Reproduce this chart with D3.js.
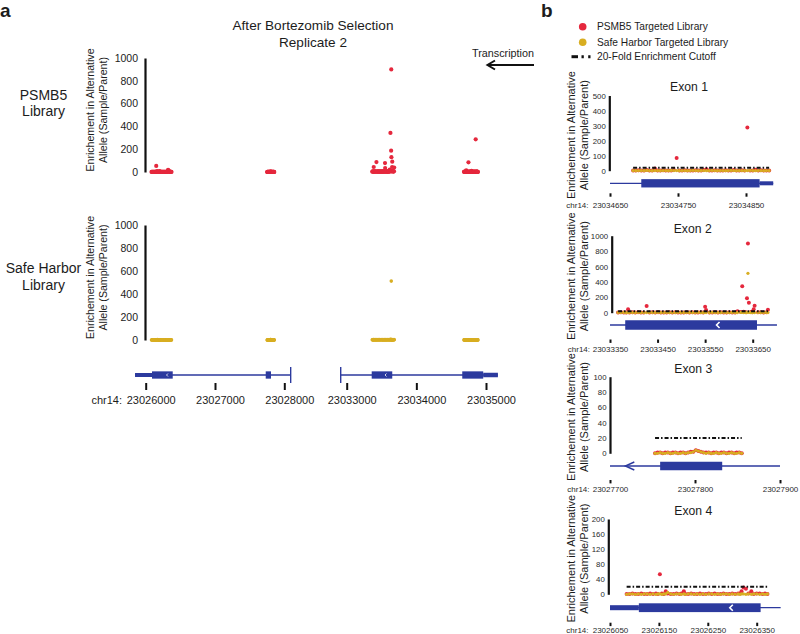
<!DOCTYPE html>
<html><head><meta charset="utf-8">
<script src="https://cdn.jsdelivr.net/npm/d3@7"></script>
<style>
body{margin:0;background:#fff}
svg{display:block;font-family:"Liberation Sans",Arial,sans-serif}
</style></head><body>
<svg id="c" width="800" height="634"></svg>
<script>
// ---------------- DATA ----------------
const titleLines = ["After Bortezomib Selection", "Replicate 2"];
const libraryLabels = [["PSMB5", "Library"], ["Safe Harbor", "Library"]];
const yTitleLines = ["Enrichement in Alternative", "Allele (Sample/Parent)"];
const legendLabels = ["PSMB5 Targeted Library", "Safe Harbor Targeted Library", "20-Fold Enrichment Cutoff"];
const exonNames = ["Exon 1", "Exon 2", "Exon 3", "Exon 4"];
const chrLabel = "chr14:";
const cutoff = 20;

const overviewYTicks = [0, 200, 400, 600, 800, 1000];
const overviewLeftTicks = [23026000, 23027000, 23028000];
const overviewRightTicks = [23033000, 23034000, 23035000];

const exonYMax = [500, 1000, 100, 200];
const exonYTicks = [[0,100,200,300,400,500],[0,200,400,600,800,1000],[0,20,40,60,80,100],[0,40,80,120,160,200]];
const exonXTicks = [
  [23034650, 23034750, 23034850],
  [23033350, 23033450, 23033550, 23033650],
  [23027700, 23027800, 23027900],
  [23026050, 23026150, 23026250, 23026350]
];

// Exon 1
const pos1 = [23034684,23034688,23034692,23034696,23034700,23034704,23034708,23034712,23034716,23034720,
  23034724,23034728,23034732,23034736,23034740,23034744,23034748,23034752,23034756,23034760,
  23034764,23034768,23034772,23034776,23034780,23034784,23034788,23034792,23034796,23034800,
  23034804,23034808,23034812,23034816,23034820,23034824,23034828,23034832,23034836,23034840,
  23034844,23034848,23034852,23034856,23034860,23034864,23034868,23034872,23034876,23034880,
  23034884];
const psmb5_1 = [2,1,3,2,1,4,2,1,15,2, 1,3,2,1,2,4,85,2,1,3, 2,1,2,3,1,2,4,10,2,1, 3,2,1,2,3,1,2,4,2,1, 3,2,287,2,1,6,2,3,1,2, 1];
const safe_1 = [1,0,1,1,0,2,1,0,1,1, 0,1,1,0,2,1,1,0,1,1, 0,1,2,1,0,1,1,0,1,2, 1,0,1,1,0,1,2,1,0,1, 1,0,1,2,1,0,1,1,0,1, 1];
// Exon 2
const pos2 = [23033367,23033373,23033379,23033384,23033388,23033391,23033397,23033403,23033409,23033415,
  23033421,23033427,23033433,23033439,23033445,23033451,23033457,23033463,23033469,23033475,
  23033481,23033487,23033493,23033499,23033505,23033511,23033517,23033523,23033529,23033535,
  23033541,23033546,23033550,23033552,23033559,23033565,23033571,23033577,23033583,23033589,
  23033595,23033601,23033607,23033613,23033618,23033625,23033628,23033631,23033636,23033638,
  23033640,23033642,23033646,23033649,23033652,23033654,23033661,23033667,23033673,23033679,
  23033682];
const psmb5_2 = [3,5,2,4,44,4,6,3,5,2, 4,87,3,6,2,5,3,4,2,6, 3,5,2,4,3,6,2,5,4,3, 5,2,78,35,4,3,5,2,6,4, 3,5,2,4,20,8,343,12,6,187, 900,130,9,5,44,91,5,7,4,6, 39];
const safe_2 = [2,1,3,1,2,4,1,2,3,1, 2,1,3,2,1,4,2,1,3,2, 1,2,4,1,2,3,1,2,1,3, 2,1,4,2,1,3,2,1,2,4, 1,2,3,1,2,4,6,1,2,4, 512,3,1,2,3,1,2,1,2,3, 2];
// Exon 3
const pos3 = [23027753,23027756,23027759,23027762,23027765,23027768,23027771,23027774,23027777,23027780,
  23027783,23027786,23027789,23027792,23027795,23027798,23027801,23027804,23027807,23027810,
  23027813,23027816,23027819,23027822,23027825,23027828,23027831,23027834,23027837,23027840,
  23027843,23027846,23027849,23027852,23027855];
const psmb5_3 = [0,1,1,0,1,1,0,1,1,0, 1,1,0,1,2,2,4,3,2,1, 1,1,0,1,1,0,1,1,0,1, 1,0,1,1,0];
const safe_3 = [0,0,1,0,0,1,0,0,1,0, 0,1,0,1,1,2,4,3,2,1, 0,1,0,0,1,0,0,1,0,0, 1,0,0,1,0];
// Exon 4
const pos4 = [23026084,23026090,23026096,23026102,23026108,23026114,23026120,23026126,23026132,23026138,
  23026144,23026148,23026152,23026156,23026160,23026164,23026168,23026174,23026180,23026186,
  23026192,23026196,23026201,23026204,23026210,23026216,23026222,23026228,23026234,23026240,
  23026246,23026252,23026258,23026264,23026270,23026276,23026282,23026288,23026294,23026300,
  23026306,23026312,23026316,23026319,23026323,23026328,23026333,23026339,23026344,23026350,
  23026356,23026362,23026367,23026372];
const psmb5_4 = [1,1,2,1,1,2,1,1,2,1, 2,1,53,2,1,8,2,1,1,2, 1,2,8,1,1,2,1,1,2,1, 1,2,1,2,1,1,2,1,1,2, 1,2,2,8,18,15,2,8,1,2, 2,1,2,1];
const safe_4 = [0,1,1,0,1,0,1,1,0,1, 0,1,1,0,1,1,5,1,0,1, 1,0,1,0,1,1,0,1,0,1, 0,1,1,0,1,0,1,1,0,1, 0,1,0,1,1,0,1,0,1,1, 0,1,0,1];

// Gene models (genomic coordinates)
const overviewGeneLeft = [
  {type:"line", start:23025846, end:23028092},
  {type:"utr", start:23025846, end:23026091},
  {type:"cds", start:23026091, end:23026390},
  {type:"cds", start:23027732, end:23027808},
  {type:"bar", start:23028092},
  {type:"chev", start:23026300}
];
const overviewGeneRight = [
  {type:"line", start:23032914, end:23035171},
  {type:"bar", start:23032914},
  {type:"cds", start:23033359, end:23033654},
  {type:"cds", start:23034659, end:23034960},
  {type:"utr", start:23034960, end:23035171},
  {type:"chev", start:23033550}
];
const exonGenes = [
  [{type:"line", start:23034650, end:23034890},{type:"cds", start:23034696, end:23034870},{type:"utr", start:23034870, end:23034890}],
  [{type:"line", start:23033350, end:23033701},{type:"cds", start:23033382, end:23033659},{type:"chev", start:23033574}],
  [{type:"line", start:23027700, end:23027900},{type:"cds", start:23027759, end:23027832},{type:"arrow", start:23027718}],
  [{type:"line", start:23026050, end:23026399},{type:"utr", start:23026050, end:23026109},{type:"cds", start:23026109, end:23026358},{type:"chev", start:23026295}]
];

// ---------------- DRAWING ----------------
const RED = "#e5283d", GOLD = "#d8ae22", BLUE = "#2c3a9e", INK = "#1c1c1c";
const svg = d3.select("#c");
const intFmt = d3.format("d");

function text(x, y, s, size, opt = {}) {
  const t = svg.append("text").attr("x", x).attr("y", y).text(s)
    .attr("font-size", size).attr("fill", opt.fill || INK)
    .attr("text-anchor", opt.anchor || "middle");
  if (opt.weight) t.attr("font-weight", opt.weight);
  if (opt.rotate) t.attr("transform", `rotate(-90,${x},${y})`);
  if (opt.dy) t.attr("dy", opt.dy);
  return t;
}

// panel letters
text(0, 16.5, "a", 19, {anchor:"start", weight:"bold"});
text(541, 16.5, "b", 19, {anchor:"start", weight:"bold"});

// overview title
text(313, 30, titleLines[0], 13.6);
text(313, 46.5, titleLines[1], 13.6);

// transcription arrow
text(503, 57, "Transcription", 10.8);
svg.append("line").attr("x1", 488).attr("x2", 534).attr("y1", 65).attr("y2", 65).attr("stroke", "#111").attr("stroke-width", 2);
svg.append("path").attr("d", "M495,60.5 L487.5,65 L495,69.5").attr("fill", "none").attr("stroke", "#111").attr("stroke-width", 2);

// rows data
const exonData = [
  {pos:pos1, psmb5:psmb5_1, safe:safe_1},
  {pos:pos2, psmb5:psmb5_2, safe:safe_2},
  {pos:pos3, psmb5:psmb5_3, safe:safe_3},
  {pos:pos4, psmb5:psmb5_4, safe:safe_4}
].map(e => e.pos.map((p, i) => ({pos:p, psmb5:e.psmb5[i], safe:e.safe[i]})));

// ---- overview panel (a) ----
const xL = d3.scaleLinear().domain([23026000, 23028000]).range([145.7, 284.3]);
const xR = d3.scaleLinear().domain([23033000, 23035000]).range([346.7, 486]);
const xOf = p => p < 23030000 ? xL(p) : xR(p);

const overviewPanels = [
  {y: d3.scaleLinear().domain([0, 1000]).range([172, 58]), key:"psmb5", color:RED, lab:libraryLabels[0], labY:[100, 116], r:2.1},
  {y: d3.scaleLinear().domain([0, 1000]).range([340, 225]), key:"safe", color:GOLD, lab:libraryLabels[1], labY:[273, 289.5], r:1.8}
];
overviewPanels.forEach(P => {
  const g = svg.append("g").attr("transform", "translate(145,0)")
    .call(d3.axisLeft(P.y).tickValues(overviewYTicks).tickFormat(intFmt).tickSize(0).tickSizeOuter(0).tickPadding(7));
  g.select(".domain").attr("stroke", "#111").attr("stroke-width", 2.2);
  g.selectAll("text").attr("font-size", 10.5).attr("fill", INK);
  g.attr("font-family", null);
  const mid = (P.y.range()[0] + P.y.range()[1]) / 2 - 5;
  text(90, mid, yTitleLines[0], 10.6, {rotate:true, dy:"0.35em"});
  text(103.5, mid, yTitleLines[1], 10.6, {rotate:true, dy:"0.35em"});
  text(43.5, P.labY[0], P.lab[0], 14);
  text(43.5, P.labY[1], P.lab[1], 14);
  const all = exonData.flat();
  svg.append("g").selectAll("circle").data(all).join("circle")
    .attr("cx", d => xOf(d.pos)).attr("cy", d => P.y(d[P.key])).attr("r", P.r).attr("fill", P.color);
});

function drawGene(x, y, feats, hU, hC, chevSize) {
  const g = svg.append("g");
  feats.forEach(f => {
    if (f.type === "line") g.append("line").attr("x1", x(f.start)).attr("x2", x(f.end)).attr("y1", y).attr("y2", y).attr("stroke", BLUE).attr("stroke-width", 1.3);
  });
  feats.forEach(f => {
    if (f.type === "utr" || f.type === "cds") {
      const h = f.type === "utr" ? hU : hC;
      g.append("rect").attr("x", x(f.start)).attr("width", x(f.end) - x(f.start)).attr("y", y - h / 2).attr("height", h).attr("fill", BLUE);
    } else if (f.type === "bar") {
      g.append("line").attr("x1", x(f.start)).attr("x2", x(f.start)).attr("y1", y - 8).attr("y2", y + 8).attr("stroke", BLUE).attr("stroke-width", 1.4);
    }
  });
  feats.forEach(f => {
    const cx = x(f.start);
    if (f.type === "chev") {
      const s = chevSize;
      g.append("path").attr("d", `M${cx + s},${y - s} L${cx},${y} L${cx + s},${y + s}`).attr("fill", "none").attr("stroke", "#fff").attr("stroke-width", s > 2 ? 1.6 : 0.8);
    } else if (f.type === "arrow") {
      g.append("path").attr("d", `M${cx + 9},${y - 4} L${cx},${y} L${cx + 9},${y + 4}`).attr("fill", "none").attr("stroke", BLUE).attr("stroke-width", 1.4);
    }
  });
}

drawGene(xL, 375, overviewGeneLeft, 4, 7.3, 1.5);
drawGene(xR, 375, overviewGeneRight, 4.5, 7.3, 1.5);

[[xL, overviewLeftTicks], [xR, overviewRightTicks]].forEach(([sc, tv]) => {
  const g = svg.append("g").attr("transform", "translate(0,383)")
    .call(d3.axisBottom(sc).tickValues(tv).tickSize(7).tickFormat(intFmt));
  g.select(".domain").remove();
  g.attr("font-family", null);
  g.selectAll("line").attr("stroke", "#111").attr("stroke-width", 2);
  g.selectAll("text").attr("font-size", 11).attr("fill", INK).attr("y", 21).attr("dy", 0).attr("dx", 5);
});
text(122, 404, chrLabel, 11, {anchor:"end"});

// ---- legend (b) ----
svg.append("circle").attr("cx", 582.7).attr("cy", 26.7).attr("r", 3.8).attr("fill", RED);
svg.append("circle").attr("cx", 582.7).attr("cy", 42.3).attr("r", 3.8).attr("fill", GOLD);
svg.append("path").attr("d", "M571.5,56.7H578").attr("stroke", "#111").attr("stroke-width", 3);
svg.append("path").attr("d", "M581.5,56.7H583.8M588.2,56.7H590.5").attr("stroke", "#111").attr("stroke-width", 3);
text(597, 26.7, legendLabels[0], 10.2, {anchor:"start", dy:"0.35em"});
text(597, 42.3, legendLabels[1], 10.2, {anchor:"start", dy:"0.35em"});
text(597, 56.7, legendLabels[2], 10.2, {anchor:"start", dy:"0.35em"});

// ---- exon panels (b) ----
const exonLayout = [
  {axisX:609.3, y0:170.7, y1:95.5, xr:[610, 746], titleY:86.7, titleX:689, geneY:183.3, hU:4, hC:8.3, tickTop:193.3, base:207.7, chrEnd:588.5},
  {axisX:611.7, y0:312.7, y1:235.7, xr:[610, 752.7], titleY:228.3, titleX:692.7, geneY:325, hU:4, hC:9.5, tickTop:339.5, base:351.7, chrEnd:590},
  {axisX:610, y0:453.3, y1:376.7, xr:[610, 780], titleY:368.3, titleX:693.3, geneY:466, hU:4, hC:8.5, tickTop:480, base:491.7, chrEnd:589.5},
  {axisX:608.3, y0:594.3, y1:519, xr:[610, 756.7], titleY:510.7, titleX:693.3, geneY:607.7, hU:5, hC:8.8, tickTop:622.7, base:632.7, chrEnd:588.5}
];

exonLayout.forEach((L, i) => {
  const xt = exonXTicks[i];
  const x = d3.scaleLinear().domain([xt[0], xt[xt.length - 1]]).range(L.xr);
  const y = d3.scaleLinear().domain([0, exonYMax[i]]).range([L.y0, L.y1]);
  const rows = exonData[i];

  text(L.titleX, L.titleY, exonNames[i], 12.2, {dy:"0.35em"});

  const ga = svg.append("g").attr("transform", `translate(${L.axisX},0)`)
    .call(d3.axisLeft(y).tickValues(exonYTicks[i]).tickFormat(intFmt).tickSize(0).tickSizeOuter(0).tickPadding(3.5));
  ga.attr("font-family", null);
  ga.select(".domain").attr("stroke", "#111").attr("stroke-width", 2.2);
  ga.selectAll("text").attr("font-size", 7.8).attr("fill", "#2a2a2a");

  const mid = (L.y0 + L.y1) / 2 + 2;
  text(571.5, mid, yTitleLines[0], 11, {rotate:true, dy:"0.35em"});
  text(584, mid, yTitleLines[1], 11, {rotate:true, dy:"0.35em"});

  // points
  svg.append("g").selectAll("circle").data(rows).join("circle")
    .attr("cx", d => x(d.pos)).attr("cy", d => y(d.psmb5)).attr("r", 2.0).attr("fill", RED);
  svg.append("g").selectAll("circle").data(rows).join("circle")
    .attr("cx", d => x(d.pos)).attr("cy", d => y(d.safe)).attr("r", 1.6).attr("fill", GOLD);

  // cutoff
  const ext = d3.extent(rows, d => d.pos);
  svg.append("path").attr("d", d3.line().x(d => x(d[0])).y(d => y(d[1]))([[ext[0], cutoff], [ext[1], cutoff]]))
    .attr("stroke", "#111").attr("stroke-width", 2).attr("stroke-dasharray", "4,2,1.5,2").attr("fill", "none");

  drawGene(x, L.geneY, exonGenes[i], L.hU, L.hC, 3);

  const gx = svg.append("g").attr("transform", `translate(0,${L.tickTop})`)
    .call(d3.axisBottom(x).tickValues(xt).tickSize(3.4).tickFormat(intFmt));
  gx.attr("font-family", null);
  gx.select(".domain").remove();
  gx.selectAll("line").attr("stroke", "#111").attr("stroke-width", 2);
  gx.selectAll("text").attr("font-size", 8).attr("fill", "#2a2a2a").attr("y", L.base - L.tickTop).attr("dy", 0);
  text(L.chrEnd, L.base, chrLabel, 8, {anchor:"end", fill:"#2a2a2a"});
});
</script>
</body></html>
